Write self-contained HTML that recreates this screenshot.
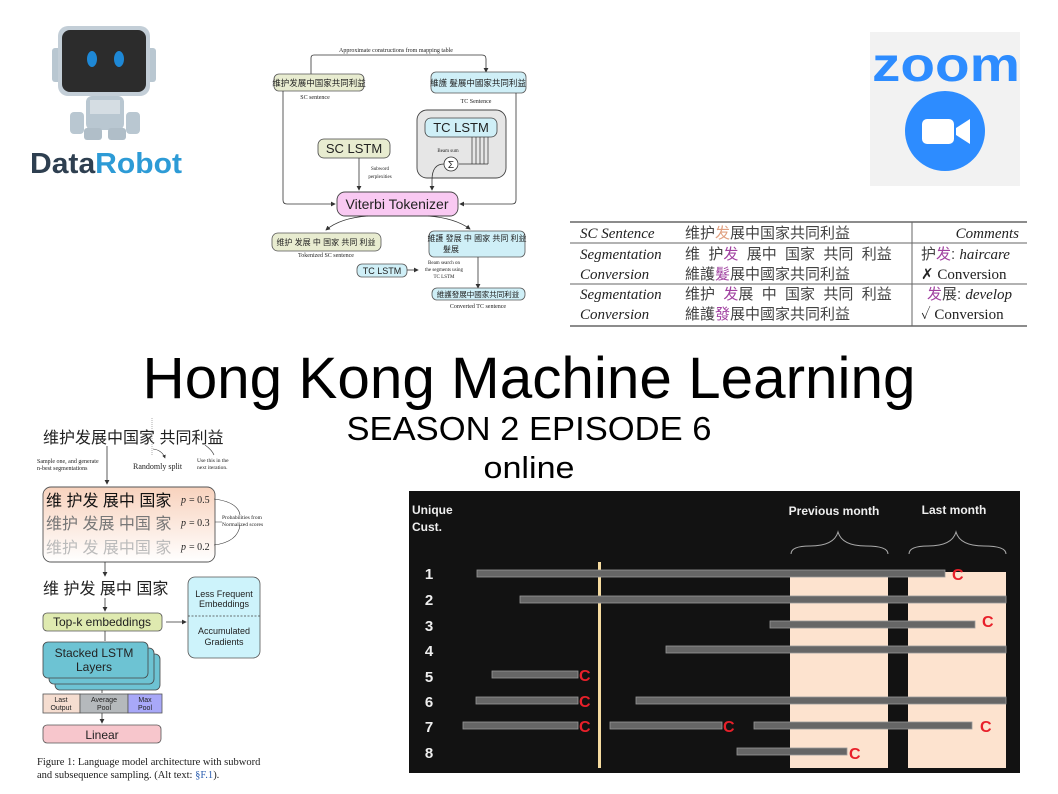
<!DOCTYPE html>
<html><head><meta charset="utf-8"><style>
html,body{margin:0;padding:0;background:#fff;}
svg{display:block;}
.s{font-family:"Liberation Serif","Noto Serif CJK SC",serif;}
.a{font-family:"Liberation Sans","Noto Sans CJK SC",sans-serif;}
</style></head><body>
<svg width="1058" height="794" viewBox="0 0 1058 794" xmlns="http://www.w3.org/2000/svg">
<defs>
<marker id="ar" markerWidth="6" markerHeight="6" refX="5" refY="3" orient="auto"><path d="M0,0 L6,3 L0,6 z" fill="#333"/></marker>
<linearGradient id="pg" x1="0" y1="0" x2="0" y2="1"><stop offset="0" stop-color="#f8d2bd"/><stop offset="1" stop-color="#fff"/></linearGradient>
</defs>

<!-- DataRobot logo -->
<rect x="52" y="48" width="10" height="34" rx="3" fill="#b9c7d1"/>
<rect x="146" y="48" width="10" height="34" rx="3" fill="#b9c7d1"/>
<rect x="58" y="26" width="92" height="70" rx="10" fill="#c3ced7"/>
<rect x="62" y="30" width="84" height="62" rx="8" fill="#2c2c2c"/>
<ellipse cx="92" cy="59" rx="5" ry="8" fill="#1e88d6"/>
<ellipse cx="119" cy="59" rx="5" ry="8" fill="#1e88d6"/>
<rect x="86" y="96" width="38" height="34" rx="6" fill="#b9c7d1"/>
<rect x="90" y="100" width="30" height="14" fill="#d5dde3"/>
<rect x="70" y="112" width="14" height="22" rx="4" fill="#b9c7d1"/>
<rect x="126" y="112" width="14" height="22" rx="4" fill="#b9c7d1"/>
<rect x="84" y="128" width="18" height="12" rx="3" fill="#b0bec8"/>
<rect x="108" y="128" width="18" height="12" rx="3" fill="#b0bec8"/>
<text x="30" y="173" class="a" font-size="29" font-weight="bold" fill="#2e3f50" textLength="152" lengthAdjust="spacingAndGlyphs">Data<tspan fill="#2d9bd6">Robot</tspan></text>

<!-- Zoom logo -->
<rect x="870" y="32" width="150" height="154" fill="#f2f2f2"/>
<text x="872" y="81" class="a" font-size="48" font-weight="bold" fill="#2d8cff" textLength="148" lengthAdjust="spacingAndGlyphs">zoom</text>
<circle cx="945" cy="131" r="40" fill="#2d8cff"/>
<rect x="922" y="119" width="32" height="25" rx="5" fill="#fff"/>
<path d="M956,128 L970,119 L970,144 L956,135 z" fill="#fff"/>

<!-- Top middle diagram -->
<g class="s" font-size="6" fill="#222">
<text x="396" y="52" text-anchor="middle" font-size="6">Approximate constructions from mapping table</text>
<path d="M311,74 L311,58 Q311,55 314,55 L482,55 Q486,55 486,59 L486,72" fill="none" stroke="#333" stroke-width="0.8" marker-end="url(#ar)"/>
<rect x="274" y="74" width="90" height="17" rx="5" fill="#e8ecd0" stroke="#555" stroke-width="0.8"/>
<text x="319" y="86" text-anchor="middle" class="a" font-size="8.5">维护发展中国家共同利益</text>
<text x="315" y="99" text-anchor="middle">SC sentence</text>
<rect x="431" y="72" width="95" height="21" rx="5" fill="#cfeff7" stroke="#555" stroke-width="0.8"/>
<text x="478" y="86" text-anchor="middle" class="a" font-size="8.5">維護 髮展中國家共同利益</text>
<text x="476" y="103" text-anchor="middle">TC Sentence</text>
<rect x="417" y="110" width="89" height="68" rx="10" fill="#e6e6e6" stroke="#444" stroke-width="0.9"/>
<rect x="425" y="118" width="72" height="19" rx="6" fill="#cfeff7" stroke="#444" stroke-width="0.8"/>
<text x="461" y="132" text-anchor="middle" class="a" font-size="13">TC LSTM</text>
<text x="448" y="152" text-anchor="middle" font-size="5">Beam sum</text>
<circle cx="451" cy="164" r="7" fill="#fff" stroke="#333" stroke-width="0.8"/>
<text x="451" y="168" text-anchor="middle" class="a" font-size="10">Σ</text>
<path d="M472,137 V164 M476,137 V164 M480,137 V164 M484,137 V164 M488,137 V164 M488,164 H459" stroke="#333" stroke-width="0.7" fill="none"/>
<path d="M444,164 Q432,164 432,180 L432,190" fill="none" stroke="#333" stroke-width="0.8" marker-end="url(#ar)"/>
<rect x="318" y="139" width="72" height="19" rx="6" fill="#e8ecd0" stroke="#444" stroke-width="0.8"/>
<text x="354" y="153" text-anchor="middle" class="a" font-size="13">SC LSTM</text>
<path d="M359,158 V190" stroke="#333" stroke-width="0.8" marker-end="url(#ar)"/>
<text x="380" y="170" text-anchor="middle" font-size="5">Subword</text>
<text x="380" y="178" text-anchor="middle" font-size="5">perplexities</text>
<path d="M283,91 L283,200 Q283,204 287,204 L335,204" fill="none" stroke="#333" stroke-width="0.8" marker-end="url(#ar)"/>
<path d="M516,93 L516,200 Q516,204 512,204 L460,204" fill="none" stroke="#333" stroke-width="0.8" marker-end="url(#ar)"/>
<rect x="337" y="192" width="121" height="24" rx="8" fill="#f9c9f2" stroke="#444" stroke-width="0.9"/>
<text x="397" y="209" text-anchor="middle" class="a" font-size="14">Viterbi Tokenizer</text>
<path d="M368,216 Q340,218 326,230" fill="none" stroke="#333" stroke-width="0.8" marker-end="url(#ar)"/>
<path d="M428,216 Q455,218 470,229" fill="none" stroke="#333" stroke-width="0.8" marker-end="url(#ar)"/>
<rect x="272" y="233" width="109" height="18" rx="6" fill="#e8ecd0" stroke="#555" stroke-width="0.8"/>
<text x="326" y="245" text-anchor="middle" class="a" font-size="8">维护 发展 中 国家 共同 利益</text>
<text x="326" y="257" text-anchor="middle">Tokenized SC sentence</text>
<rect x="429" y="231" width="96" height="26" rx="5" fill="#cfeff7" stroke="#555" stroke-width="0.8"/>
<text x="477" y="241" text-anchor="middle" class="a" font-size="8">維護 發展 中 國家 共同 利益</text>
<text x="451" y="252" text-anchor="middle" class="a" font-size="8">髮展</text>
<rect x="357" y="264" width="50" height="13" rx="5" fill="#cfeff7" stroke="#555" stroke-width="0.8"/>
<text x="382" y="274" text-anchor="middle" class="a" font-size="9">TC LSTM</text>
<path d="M407,270 H418" stroke="#333" stroke-width="0.8" marker-end="url(#ar)"/>
<text x="444" y="264" text-anchor="middle" font-size="5">Beam search on</text>
<text x="444" y="271" text-anchor="middle" font-size="5">the segments using</text>
<text x="444" y="278" text-anchor="middle" font-size="5">TC LSTM</text>
<path d="M478,257 V288" stroke="#333" stroke-width="0.8" marker-end="url(#ar)"/>
<rect x="432" y="288" width="93" height="12" rx="5" fill="#cfeff7" stroke="#555" stroke-width="0.8"/>
<text x="478" y="297" text-anchor="middle" class="a" font-size="7.5">維護發展中國家共同利益</text>
<text x="478" y="308" text-anchor="middle">Converted TC sentence</text>
</g>

<!-- Table -->
<g class="s" font-size="15" fill="#222">
<line x1="570" y1="222" x2="1027" y2="222" stroke="#666" stroke-width="1.5"/>
<line x1="570" y1="243" x2="1027" y2="243" stroke="#666" stroke-width="1"/>
<line x1="570" y1="284" x2="1027" y2="284" stroke="#666" stroke-width="1"/>
<line x1="570" y1="326" x2="1027" y2="326" stroke="#666" stroke-width="1.5"/>
<line x1="912" y1="222" x2="912" y2="326" stroke="#666" stroke-width="1"/>
<g font-style="italic">
<text x="580" y="238">SC Sentence</text>
<text x="580" y="259">Segmentation</text>
<text x="580" y="279">Conversion</text>
<text x="580" y="299">Segmentation</text>
<text x="580" y="319">Conversion</text>
<text x="1019" y="238" text-anchor="end">Comments</text>
</g>
<g class="a" font-size="15" fill="#444">
<text x="685" y="238">维护<tspan fill="#e0a080">发</tspan>展中国家共同利益</text>
<text x="685" y="259" xml:space="preserve">维  护<tspan fill="#a040a0">发</tspan>  展中  国家  共同  利益</text>
<text x="685" y="279">維護<tspan fill="#a040a0">髮</tspan>展中國家共同利益</text>
<text x="685" y="299" xml:space="preserve">维护  <tspan fill="#a040a0">发</tspan>展  中  国家  共同  利益</text>
<text x="685" y="319">維護<tspan fill="#a040a0">發</tspan>展中國家共同利益</text>
<text x="921" y="259">护<tspan fill="#a040a0">发</tspan>: <tspan class="s" font-style="italic" fill="#222">haircare</tspan></text>
<text x="927" y="299"><tspan fill="#a040a0">发</tspan>展: <tspan class="s" font-style="italic" fill="#222">develop</tspan></text>
</g>
<text x="921" y="279">✗  Conversion</text>
<text x="921" y="319">✓  Conversion</text>
</g>

<!-- Title -->
<text x="529" y="398" class="a" font-size="58" text-anchor="middle" fill="#000" textLength="773" lengthAdjust="spacingAndGlyphs">Hong Kong Machine Learning</text>
<text x="529" y="440" class="a" font-size="33" text-anchor="middle" fill="#000" textLength="365" lengthAdjust="spacingAndGlyphs">SEASON 2 EPISODE 6</text>
<text x="529" y="478" class="a" font-size="31" text-anchor="middle" fill="#000" textLength="91" lengthAdjust="spacingAndGlyphs">online</text>

<!-- Bottom left diagram -->
<g class="a" fill="#222">
<text x="43" y="443" font-size="16">维护发展中国家 共同利益</text>
<line x1="152" y1="418" x2="152" y2="455" stroke="#999" stroke-width="0.8" stroke-dasharray="1,1"/>
<path d="M153,449 Q162,450 165,458" fill="none" stroke="#333" stroke-width="0.6" marker-end="url(#ar)"/>
<path d="M205,445 Q212,450 214,455" fill="none" stroke="#333" stroke-width="0.6"/>
<text x="37" y="463" class="s" font-size="6">Sample one, and generate</text>
<text x="37" y="470" class="s" font-size="6">n-best segmentations</text>
<text x="133" y="469" class="s" font-size="8">Randomly  split</text>
<text x="197" y="462" class="s" font-size="5.5">Use this in the</text>
<text x="197" y="469" class="s" font-size="5.5">next iteration.</text>
<path d="M107,446 V484" stroke="#333" stroke-width="0.8" marker-end="url(#ar)"/>
<rect x="43" y="487" width="172" height="75" rx="8" fill="url(#pg)" stroke="#555" stroke-width="0.9"/>
<text x="46" y="506" font-size="16" fill="#111">维 护发 展中 国家</text>
<text x="46" y="529" font-size="16" fill="#777">维护 发展 中国 家</text>
<text x="46" y="553" font-size="16" fill="#bbb">维护 发 展中国 家</text>
<g class="s" font-size="10" font-style="italic"><text x="181" y="503">p</text><text x="181" y="526">p</text><text x="181" y="550">p</text></g>
<g class="s" font-size="10"><text x="189" y="503">= 0.5</text><text x="189" y="526">= 0.3</text><text x="189" y="550">= 0.2</text></g>
<path d="M214,499 Q238,502 240,515 M215,522 H222 M214,545 Q238,542 240,525" fill="none" stroke="#333" stroke-width="0.6"/>
<text x="222" y="519" class="s" font-size="5.5">Probabilities from</text>
<text x="222" y="526" class="s" font-size="5.5">Normalized scores</text>
<path d="M105,562 V576" stroke="#333" stroke-width="0.8" marker-end="url(#ar)"/>
<text x="43" y="594" font-size="16">维 护发 展中 国家</text>
<path d="M105,598 V611" stroke="#333" stroke-width="0.8" marker-end="url(#ar)"/>
<rect x="43" y="613" width="119" height="18" rx="4" fill="#dfeab0" stroke="#555" stroke-width="0.8"/>
<text x="102" y="626" font-size="12" text-anchor="middle">Top-k embeddings</text>
<path d="M166,622 H186" stroke="#333" stroke-width="0.8" marker-end="url(#ar)"/>
<rect x="188" y="577" width="72" height="81" rx="7" fill="#cdf3fb" stroke="#555" stroke-width="0.8"/>
<line x1="188" y1="616" x2="260" y2="616" stroke="#444" stroke-width="0.7" stroke-dasharray="2,1.5"/>
<text x="224" y="597" font-size="9" text-anchor="middle">Less Frequent</text>
<text x="224" y="607" font-size="9" text-anchor="middle">Embeddings</text>
<text x="224" y="634" font-size="9" text-anchor="middle">Accumulated</text>
<text x="224" y="645" font-size="9" text-anchor="middle">Gradients</text>
<line x1="105" y1="631" x2="105" y2="641" stroke="#333" stroke-width="0.8"/>
<rect x="55" y="654" width="105" height="36" rx="5" fill="#6dc3d3" stroke="#444" stroke-width="0.8"/>
<rect x="49" y="648" width="105" height="36" rx="5" fill="#6dc3d3" stroke="#444" stroke-width="0.8"/>
<rect x="43" y="642" width="105" height="36" rx="5" fill="#6dc3d3" stroke="#444" stroke-width="0.8"/>
<text x="94" y="657" font-size="12" text-anchor="middle">Stacked LSTM</text>
<text x="94" y="671" font-size="12" text-anchor="middle">Layers</text>
<path d="M102,690 V693" stroke="#333" stroke-width="0.8"/>
<rect x="43" y="694" width="37" height="19" fill="#f5ddd0" stroke="#555" stroke-width="0.8"/>
<rect x="80" y="694" width="48" height="19" fill="#b5b9bc" stroke="#555" stroke-width="0.8"/>
<rect x="128" y="694" width="34" height="19" fill="#a8a8f8" stroke="#555" stroke-width="0.8"/>
<g font-size="7" text-anchor="middle"><text x="61" y="702">Last</text><text x="61" y="710">Output</text><text x="104" y="702">Average</text><text x="104" y="710">Pool</text><text x="145" y="702">Max</text><text x="145" y="710">Pool</text></g>
<path d="M102,713 V723" stroke="#333" stroke-width="0.8" marker-end="url(#ar)"/>
<rect x="43" y="725" width="118" height="18" rx="4" fill="#f7c6cc" stroke="#555" stroke-width="0.8"/>
<text x="102" y="739" font-size="12" text-anchor="middle">Linear</text>
<text x="37" y="765" class="s" font-size="10.5">Figure 1:  Language model architecture with subword</text>
<text x="37" y="778" class="s" font-size="10.5">and subsequence sampling. (Alt text: <tspan fill="#2a5db0">§F.1</tspan>).</text>
</g>

<!-- Chart -->
<rect x="409" y="491" width="611" height="282" fill="#121212"/>
<rect x="790" y="572" width="98" height="196" fill="#fde3cf"/>
<rect x="908" y="572" width="98" height="196" fill="#fde3cf"/>
<rect x="598" y="562" width="3" height="206" fill="#f5dba0"/>
<g class="a" fill="#eee" font-weight="bold">
<text x="412" y="514" font-size="12">Unique</text>
<text x="412" y="531" font-size="12">Cust.</text>
<text x="834" y="515" font-size="12" text-anchor="middle">Previous month</text>
<text x="954" y="514" font-size="12" text-anchor="middle">Last month</text>
<g font-size="15" text-anchor="middle"><text x="429" y="579">1</text><text x="429" y="605">2</text><text x="429" y="631">3</text><text x="429" y="656">4</text><text x="429" y="682">5</text><text x="429" y="707">6</text><text x="429" y="732">7</text><text x="429" y="758">8</text></g>
</g>
<path d="M791,554 Q791,546 810,546 Q834,546 838,532 Q842,546 866,546 Q888,546 888,554" fill="none" stroke="#aaa" stroke-width="1"/>
<path d="M909,554 Q909,546 928,546 Q952,546 956,532 Q960,546 984,546 Q1006,546 1006,554" fill="none" stroke="#aaa" stroke-width="1"/>
<g fill="#666" stroke="#999" stroke-width="0.8">
<rect x="477" y="570" width="468" height="7"/>
<rect x="520" y="596" width="486" height="7"/>
<rect x="770" y="621" width="205" height="7"/>
<rect x="666" y="646" width="340" height="7"/>
<rect x="492" y="671" width="86" height="7"/>
<rect x="476" y="697" width="102" height="7"/>
<rect x="636" y="697" width="370" height="7"/>
<rect x="463" y="722" width="115" height="7"/>
<rect x="610" y="722" width="112" height="7"/>
<rect x="754" y="722" width="218" height="7"/>
<rect x="737" y="748" width="110" height="7"/>
</g>
<g class="a" fill="#e8202a" font-weight="bold" font-size="16">
<text x="952" y="580">C</text><text x="982" y="627">C</text><text x="579" y="681">C</text><text x="579" y="707">C</text><text x="579" y="732">C</text><text x="723" y="732">C</text><text x="980" y="732">C</text><text x="849" y="759">C</text>
</g>
</svg>
</body></html>
